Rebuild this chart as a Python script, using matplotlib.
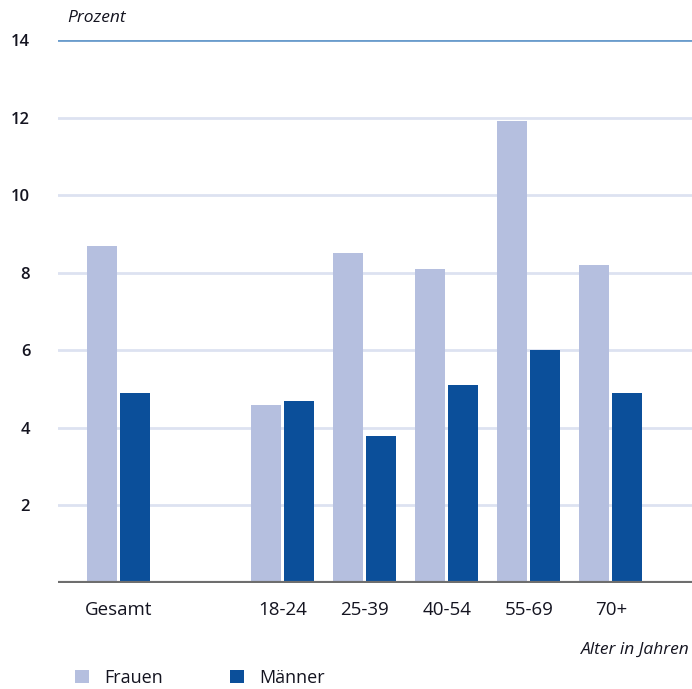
import matplotlib
matplotlib.use("Agg")
import matplotlib.pyplot as plt
import numpy as np

categories = ["Gesamt", "18-24", "25-39", "40-54", "55-69", "70+"]
positions = [0, 2, 3, 4, 5, 6]
frauen = [8.7, 4.6, 8.5, 8.1, 11.9, 8.2]
maenner = [4.9, 4.7, 3.8, 5.1, 6.0, 4.9]
yticks = [2, 4, 6, 8, 10, 12, 14]

plt.rcParams['font.family'] = ['Open Sans', 'DejaVu Sans']
C_F = "#b5bfdf"
C_M = "#0b4f9a"
TXT = "#141420"

W, H = 692, 689
fig = plt.figure(figsize=(W / 100, H / 100), dpi=100)
ax = fig.add_axes([58 / W, (H - 583) / H, (692 - 58) / W, (583 - 40) / H])

pos = np.array(positions, dtype=float)
bw = 0.366
off = 0.201
bf = ax.bar(pos - off, frauen, width=bw, color=C_F, zorder=3, label="Frauen")
bm = ax.bar(pos + off, maenner, width=bw, color=C_M, zorder=3, label="Männer")

ax.set_xlim(-0.74, 6.99)
ax.set_ylim(0, 14)
for y in yticks:
    c = "#6a9ccc" if y == 14 else "#dde2f1"
    ax.axhline(y, color=c, lw=2, zorder=1)
ax.axhline(0, color="#6e6e6e", lw=3, zorder=4)

for s in ax.spines.values():
    s.set_visible(False)
ax.set_yticks(yticks)
ax.set_yticklabels([str(y) for y in yticks], fontsize=12, fontweight="semibold", color=TXT)
ax.tick_params(axis="y", length=0, pad=20)
ax.set_xticks(pos)
ax.set_xticklabels(categories, fontsize=13.5, color=TXT)
ax.tick_params(axis="x", length=0, pad=13)

fig.text(67 / W, 1 - 18 / H, "Prozent", fontsize=12.5, style="italic", fontweight="medium",
         color=TXT, ha="left", va="center")
fig.text(690 / W, 1 - 650 / H, "Alter in Jahren", fontsize=12.5, style="italic",
         fontweight="medium", color=TXT, ha="right", va="center")

leg = fig.legend(handles=[bf, bm], labels=["Frauen", "Männer"], loc="center left",
                 bbox_to_anchor=(75 / W, 1 - 678 / H), ncol=2, frameon=False,
                 fontsize=13, handlelength=0.75, handleheight=0.75,
                 handletextpad=0.85, columnspacing=3.75, borderpad=0, borderaxespad=0)
for t in leg.get_texts():
    t.set_color(TXT)

fig.savefig("out.png", dpi=100)
